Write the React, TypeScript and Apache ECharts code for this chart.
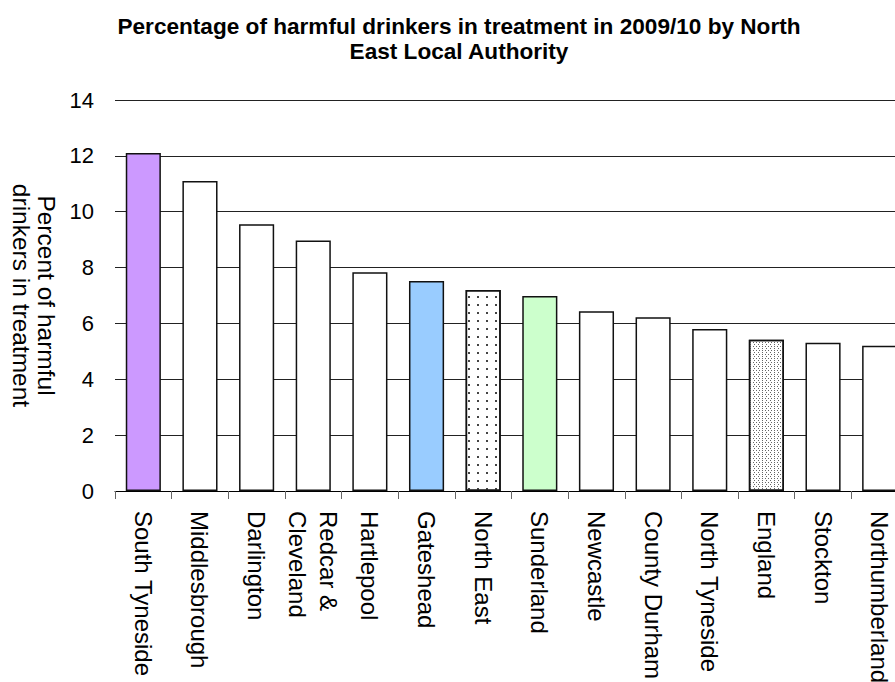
import React, { useEffect, useRef } from "react";
import * as echarts from "echarts";

const categories = [
  "South Tyneside",
  "Middlesbrough",
  "Darlington",
  "Redcar &\nCleveland",
  "Hartlepool",
  "Gateshead",
  "North East",
  "Sunderland",
  "Newcastle",
  "County Durham",
  "North Tyneside",
  "England",
  "Stockton",
  "Northumberland",
];
const values = [12.1, 11.1, 9.55, 8.97, 7.83, 7.52, 7.2, 6.98, 6.44, 6.22, 5.8, 5.42, 5.31, 5.2];
const barColors = [
  "#CC99FF", "#FFFFFF", "#FFFFFF", "#FFFFFF", "#FFFFFF", "#99CCFF", "#FFFFFF",
  "#CCFFCC", "#FFFFFF", "#FFFFFF", "#FFFFFF", "#FFFFFF", "#FFFFFF", "#FFFFFF",
];
const barPatterns = [
  "", "", "", "", "", "", "sparse", "", "", "", "", "dense", "", "",
];
const yTicks = { min: 0, max: 14, interval: 2 };
const titleLines = [
  "Percentage of harmful drinkers in treatment in 2009/10 by North",
  "East Local Authority",
];
const yAxisTitle = ["Percent of harmful", "drinkers in treatment"];

const FONT = "'Liberation Sans', Arial, Helvetica, sans-serif";

const decals: Record<string, any> = {
  sparse: {
    symbol: "rect",
    symbolSize: 1,
    color: "#444",
    dashArrayX: [1.4, 6.3],
    dashArrayY: [1.4, 5.6],
  },
  dense: {
    symbol: "rect",
    symbolSize: 1,
    color: "#666",
    dashArrayX: [[1, 1.5], [0, 1.25, 1, 0.25]],
    dashArrayY: [1, 0.6],
  },
};

export default function App() {
  const ref = useRef<HTMLDivElement>(null);
  useEffect(() => {
    if (!ref.current) return;
    const chart = echarts.init(ref.current, undefined, { renderer: "svg" });
    const data = values.map((v, i) => ({
      value: v,
      itemStyle: {
        color: barColors[i],
        ...(barPatterns[i] ? { decal: decals[barPatterns[i]] } : {}),
      },
    }));
    chart.setOption({
      animation: false,
      backgroundColor: "#FFFFFF",
      aria: { enabled: false },
      title: {
        text: titleLines.join("\n"),
        left: 459,
        top: 14,
        padding: 0,
        textAlign: "center",
        textStyle: {
          fontFamily: FONT,
          fontWeight: "bold",
          fontSize: 22.6,
          lineHeight: 25,
          color: "#000",
        },
      },
      grid: {
        left: 115,
        top: 100,
        width: 793,
        bottom: 191,
        containLabel: false,
        outerBoundsMode: "none",
      },
      xAxis: {
        type: "category",
        data: categories,
        axisLine: { lineStyle: { color: "#000", width: 1 } },
        axisTick: { show: true, length: 8, lineStyle: { color: "#666" } },
        axisLabel: {
          interval: 0,
          rotate: -90,
          margin: 20,
          fontFamily: FONT,
          fontSize: 24,
          lineHeight: 31,
          color: "#000",
        },
        splitLine: { show: false },
      },
      yAxis: {
        type: "value",
        min: yTicks.min,
        max: yTicks.max,
        interval: yTicks.interval,
        name: yAxisTitle.join("\n"),
        nameLocation: "middle",
        nameRotate: -90,
        nameGap: 48,
        nameTextStyle: {
          fontFamily: FONT,
          fontSize: 24.5,
          lineHeight: 25,
          color: "#000",
        },
        axisLine: { show: false },
        axisTick: { show: false },
        axisLabel: {
          margin: 21,
          fontFamily: FONT,
          fontSize: 22,
          color: "#000",
        },
        splitLine: { show: true, lineStyle: { color: "#222", width: 1 } },
      },
      series: [
        {
          type: "bar",
          data,
          barWidth: "62%",
          itemStyle: { borderColor: "#111", borderWidth: 1.5 },
        },
      ],
    });
    return () => chart.dispose();
  }, []);
  return (
    <div
      ref={ref}
      style={{ position: "absolute", left: 0, top: 0, width: 895, height: 682 }}
    />
  );
}
